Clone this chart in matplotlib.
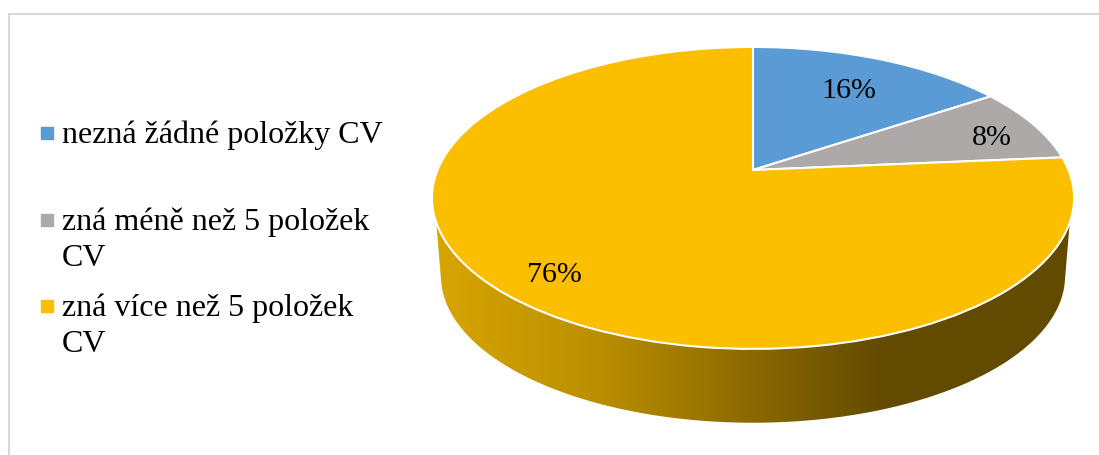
import numpy as np
import matplotlib
matplotlib.use('Agg')
import matplotlib.pyplot as plt
from matplotlib.colors import to_rgb
from matplotlib.patches import Polygon
from matplotlib.transforms import Transform

plt.rcParams['font.family'] = ['Liberation Serif', 'DejaVu Serif']

categories = ['nezná žádné položky CV', 'zná méně než 5 položek\nCV', 'zná více než 5 položek\nCV']
values = [15.6, 8.0, 76.4]
colors = ['#5B9BD5', '#ADA9A8', '#FBBF00']

# side shading, left to right
side_x = [434, 600, 880, 1073]
side_colors = ['#D8A600', '#BA8E00', '#634B00', '#624A00']

APEX_X, APEX_Y = 753, 170
TILT = 0.185


class Tilt(Transform):
    # perspective view of the unit pie, result is in pixel coords
    input_dims = 2
    output_dims = 2

    def transform_non_affine(self, values):
        xy = np.asarray(values, dtype=float)
        den = 1 + TILT * xy[:, 1]
        return np.column_stack((APEX_X + 315.5 * xy[:, 0] / den, APEX_Y - 145.8 * xy[:, 1] / den))


fig = plt.figure(figsize=(10.99, 4.55), dpi=100)
ax = fig.add_axes([0, 0, 1, 1])

# side of the pie
theta = np.linspace(0, 2 * np.pi, 1441)
rim = Tilt().transform_non_affine(np.column_stack((np.cos(theta), np.sin(theta))))
front = rim[(rim[:, 1] >= 222)]
front = front[np.argsort(front[:, 0])]
low = np.column_stack((APEX_X + (rim[:, 0] - APEX_X) * 0.972, rim[:, 1] * 0.972 + 83.6))
low = low[low[:, 1] >= 280]
low = low[np.argsort(-low[:, 0])]
outline = Polygon(np.vstack((front, low)), closed=True, transform=ax.transData, fc='none', ec='none')
ax.add_patch(outline)

xs = np.arange(side_x[0], side_x[-1] + 1)
rgb = np.array([to_rgb(c) for c in side_colors])
grad = np.stack([np.interp(xs, side_x, rgb[:, i]) for i in range(3)], axis=1)[np.newaxis, :, :]
im = ax.imshow(grad, extent=(side_x[0], side_x[-1], 430, 200), aspect='auto', zorder=1)
im.set_clip_path(outline)

# top of the pie
wedges, _ = ax.pie(values, colors=colors, startangle=90, counterclock=False,
                   wedgeprops={'edgecolor': 'white', 'linewidth': 1.5})
for w in wedges:
    w.set_transform(Tilt() + ax.transData)
    w.set_zorder(2)

# value labels
label_pos = [(849, 91), (992, 138), (554, 275)]
for v, (px, py) in zip(values, label_pos):
    ax.text(px, py, f'{v:.0f}%', fontsize=21.6, ha='center', va='center', color='black', zorder=3)

# legend
legend_y = [133, 220, 306]
text_y = [143, 230, 316]
for name, c, my, ty in zip(categories, colors, legend_y, text_y):
    ax.plot([46.5], [my], marker='s', ms=8, mfc=c, mec=c, ls='none', zorder=3)
    lines = name.split('\n')
    for i, line in enumerate(lines):
        ax.text(62, ty + i * 36, line, fontsize=23, ha='left', va='baseline', color='black')

# chart border
ax.plot([1099, 8.5, 8.5], [14, 14, 455], color='#D9D9D9', lw=1.5, zorder=0)

ax.set_aspect('auto')
ax.set_xlim(0, 1099)
ax.set_ylim(455, 0)
ax.axis('off')

fig.savefig('out.png', dpi=100)
